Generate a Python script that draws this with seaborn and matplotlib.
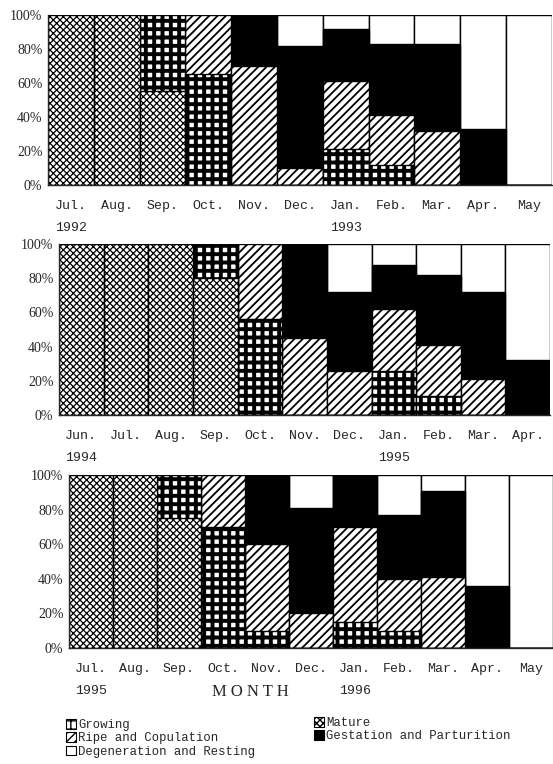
import matplotlib
matplotlib.use("Agg")
import matplotlib.pyplot as plt
import seaborn as sns
from matplotlib.patches import Patch
from matplotlib.ticker import PercentFormatter

# stack order, bottom to top
stages = ["Mature", "Growing", "Ripe and Copulation",
          "Gestation and Parturition", "Degeneration and Resting"]

months_9293 = ["Jul.", "Aug.", "Sep.", "Oct.", "Nov.", "Dec.", "Jan.", "Feb.", "Mar.", "Apr.", "May"]
mature_9293 = [100, 100, 55, 0, 0, 0, 0, 0, 0, 0, 0]
growing_9293 = [0, 0, 45, 65, 0, 0, 21, 12, 0, 0, 0]
ripe_9293 = [0, 0, 0, 35, 70, 10, 40, 29, 32, 0, 0]
gestation_9293 = [0, 0, 0, 0, 30, 72, 31, 42, 51, 33, 0]
resting_9293 = [0, 0, 0, 0, 0, 18, 8, 17, 17, 67, 100]

months_9495 = ["Jun.", "Jul.", "Aug.", "Sep.", "Oct.", "Nov.", "Dec.", "Jan.", "Feb.", "Mar.", "Apr."]
mature_9495 = [100, 100, 100, 80, 0, 0, 0, 0, 0, 0, 0]
growing_9495 = [0, 0, 0, 20, 56, 0, 0, 26, 11, 0, 0]
ripe_9495 = [0, 0, 0, 0, 44, 45, 26, 36, 30, 21, 0]
gestation_9495 = [0, 0, 0, 0, 0, 55, 46, 26, 41, 51, 32]
resting_9495 = [0, 0, 0, 0, 0, 0, 28, 12, 18, 28, 68]

months_9596 = ["Jul.", "Aug.", "Sep.", "Oct.", "Nov.", "Dec.", "Jan.", "Feb.", "Mar.", "Apr.", "May"]
mature_9596 = [100, 100, 75, 0, 0, 0, 0, 0, 0, 0, 0]
growing_9596 = [0, 0, 25, 70, 10, 0, 15, 10, 0, 0, 0]
ripe_9596 = [0, 0, 0, 30, 50, 20, 55, 30, 41, 0, 0]
gestation_9596 = [0, 0, 0, 0, 40, 61, 30, 37, 50, 36, 0]
resting_9596 = [0, 0, 0, 0, 0, 19, 0, 23, 9, 64, 100]

years_9293 = [("1992", "Jul."), ("1993", "Jan.")]
years_9495 = [("1994", "Jun."), ("1995", "Jan.")]
years_9596 = [("1995", "Jul."), ("1996", "Jan.")]

# fill, hatch, hatch linewidth per stage
styles = {
    "Mature": ("white", "xxxxx", 0.9),
    "Growing": ("white", "++", 2.8),
    "Ripe and Copulation": ("white", "////", 1.3),
    "Gestation and Parturition": ("black", "", 1.0),
    "Degeneration and Resting": ("white", "", 1.0),
}

MONO = "Liberation Mono"
SERIF = "Liberation Serif"


def style_patch(patch, stage):
    face, hatch, hlw = styles[stage]
    patch.set_facecolor(face)
    patch.set_edgecolor("black")
    patch.set_hatch(hatch)
    if hasattr(patch, "set_hatch_linewidth"):
        patch.set_hatch_linewidth(hlw)


def draw_panel(ax, months, layers, years):
    cum = [0] * len(months)
    cums = []
    for layer in layers:
        cum = [c + v for c, v in zip(cum, layer)]
        cums.append(cum)
    # draw tallest cumulative first so lower stages sit on top
    for stage, heights in reversed(list(zip(stages, cums))):
        sns.barplot(x=months, y=heights, order=months, width=1.0, color="white",
                    saturation=1, edgecolor="black", linewidth=1.0, ax=ax)
        for patch in ax.containers[-1]:
            style_patch(patch, stage)

    ax.set_xlim(-0.5, len(months) - 0.5)
    ax.set_ylim(0, 100)
    ax.set_yticks([0, 20, 40, 60, 80, 100])
    ax.yaxis.set_major_formatter(PercentFormatter(decimals=0))
    ax.set_xticks(range(len(months)))
    ax.set_xticklabels(months, family=MONO, fontsize=9.5)
    ax.set_xticks([i - 0.5 for i in range(len(months) + 1)], minor=True)
    ax.tick_params(axis="x", which="major", length=0, pad=11)
    ax.tick_params(axis="x", which="minor", length=3, width=0.8, direction="out")
    ax.tick_params(axis="y", length=3, width=0.8, pad=1)
    for lab in ax.get_yticklabels():
        lab.set_family(SERIF)
        lab.set_fontsize(10)
    ax.set_xlabel("")
    ax.set_ylabel("")
    for side in ["top", "right"]:
        ax.spines[side].set_visible(False)
    for side in ["left", "bottom"]:
        ax.spines[side].set_linewidth(1.0)
    for year, month in years:
        ax.annotate(year, xy=(months.index(month), 0), xycoords=("data", "axes fraction"),
                    xytext=(0, -43), textcoords="offset pixels",
                    ha="center", va="center", family=MONO, fontsize=9.5)


sns.set_theme(style="white")
plt.rcParams["font.family"] = [MONO, "DejaVu Sans"]

fig = plt.figure(figsize=(5.53, 7.64), dpi=100)
ax1 = fig.add_axes([0.0868, 0.7579, 0.911, 0.2225])
ax2 = fig.add_axes([0.1067, 0.4568, 0.888, 0.2238])
ax3 = fig.add_axes([0.1248, 0.1518, 0.875, 0.2264])

draw_panel(ax1, months_9293,
           [mature_9293, growing_9293, ripe_9293, gestation_9293, resting_9293], years_9293)
draw_panel(ax2, months_9495,
           [mature_9495, growing_9495, ripe_9495, gestation_9495, resting_9495], years_9495)
draw_panel(ax3, months_9596,
           [mature_9596, growing_9596, ripe_9596, gestation_9596, resting_9596], years_9596)

fig.text(250 / 553, 1 - 692 / 764, "M O N T H", ha="center", va="center",
         family=SERIF, fontsize=12)


def handle(stage):
    face, hatch, hlw = styles[stage]
    p = Patch(facecolor=face, edgecolor="black", hatch=hatch, linewidth=0.8)
    if hasattr(p, "set_hatch_linewidth"):
        p.set_hatch_linewidth(min(hlw, 1.5))
    return p


left_stages = ["Growing", "Ripe and Copulation", "Degeneration and Resting"]
right_stages = ["Mature", "Gestation and Parturition"]
leg_kw = dict(frameon=False, handlelength=0.8, handleheight=0.8, handletextpad=0.2,
              labelspacing=0.1, borderpad=0, prop={"family": MONO, "size": 8.8})
fig.legend([handle(s) for s in left_stages], left_stages, loc="upper left",
           bbox_to_anchor=(60 / 553, 1 - 713 / 764), **leg_kw)
fig.legend([handle(s) for s in right_stages], right_stages, loc="upper left",
           bbox_to_anchor=(308 / 553, 1 - 711 / 764), **leg_kw)

fig.savefig("out.png", dpi=100)
